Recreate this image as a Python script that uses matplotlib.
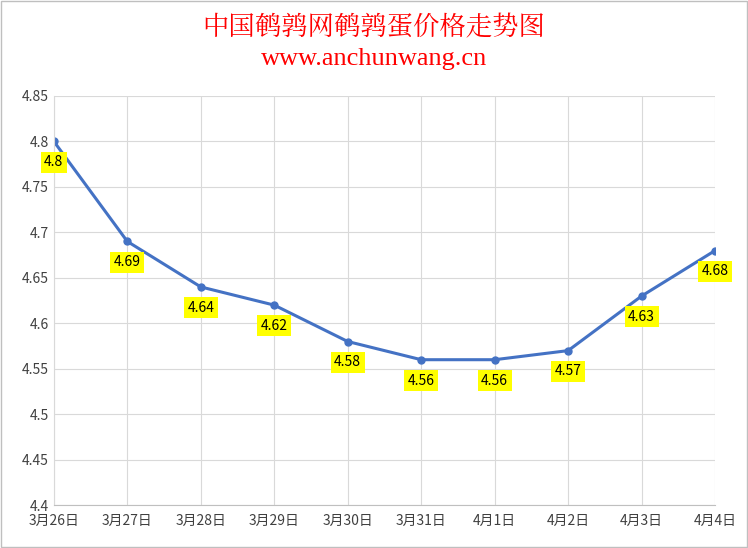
import matplotlib.pyplot as plt
from matplotlib.patches import Rectangle

plt.rcParams["font.family"] = ["Noto Sans CJK SC", "DejaVu Sans"]

dates = ["3月26日", "3月27日", "3月28日", "3月29日", "3月30日",
         "3月31日", "4月1日", "4月2日", "4月3日", "4月4日"]
prices = [4.80, 4.69, 4.64, 4.62, 4.58, 4.56, 4.56, 4.57, 4.63, 4.68]

fig = plt.figure(figsize=(7.48, 5.48), dpi=100, facecolor="white")
fig.patches.append(Rectangle((0.001, 0.001), 0.998, 0.998, transform=fig.transFigure,
                             fill=False, edgecolor="#bfbfbf", linewidth=1))
ax = fig.add_axes([0.072, 0.078, 0.884, 0.747])

x = list(range(len(dates)))
ax.plot(x, prices, color="#4472c4", linewidth=2.2, marker="o", markersize=5)
for xi, p in zip(x, prices):
    ax.annotate(f"{p:g}", (xi, p), xytext=(0, -15), textcoords="offset points",
                ha="center", va="center", fontsize=10,
                bbox=dict(boxstyle="square,pad=0.25", facecolor="#ffff00", edgecolor="none"))

ax.set_xlim(0, len(dates) - 1)
ax.set_ylim(4.4, 4.85)
ax.set_yticks([4.4, 4.45, 4.5, 4.55, 4.6, 4.65, 4.7, 4.75, 4.8, 4.85])
ax.set_yticklabels(["4.4", "4.45", "4.5", "4.55", "4.6", "4.65", "4.7", "4.75", "4.8", "4.85"])
ax.set_xticks(x)
ax.set_xticklabels(dates)
ax.tick_params(length=0, labelsize=10, colors="#404040")
ax.tick_params(axis="x", pad=6)
ax.grid(color="#d9d9d9", linewidth=0.8)
for s in ["top", "right"]:
    ax.spines[s].set_visible(False)
ax.spines["left"].set_color("#d9d9d9")
ax.spines["bottom"].set_color("#bfbfbf")

fig.text(0.5, 0.948, "中国鹌鹑网鹌鹑蛋价格走势图", ha="center", va="center",
         color="#ff0000", fontsize=19, family=["Noto Serif CJK SC", "Noto Sans CJK SC"])
fig.text(0.5, 0.893, "www.anchunwang.cn", ha="center", va="center",
         color="#ff0000", fontsize=19, family=["Liberation Serif", "DejaVu Serif"])

fig.savefig("out.png", dpi=100, facecolor="white")
